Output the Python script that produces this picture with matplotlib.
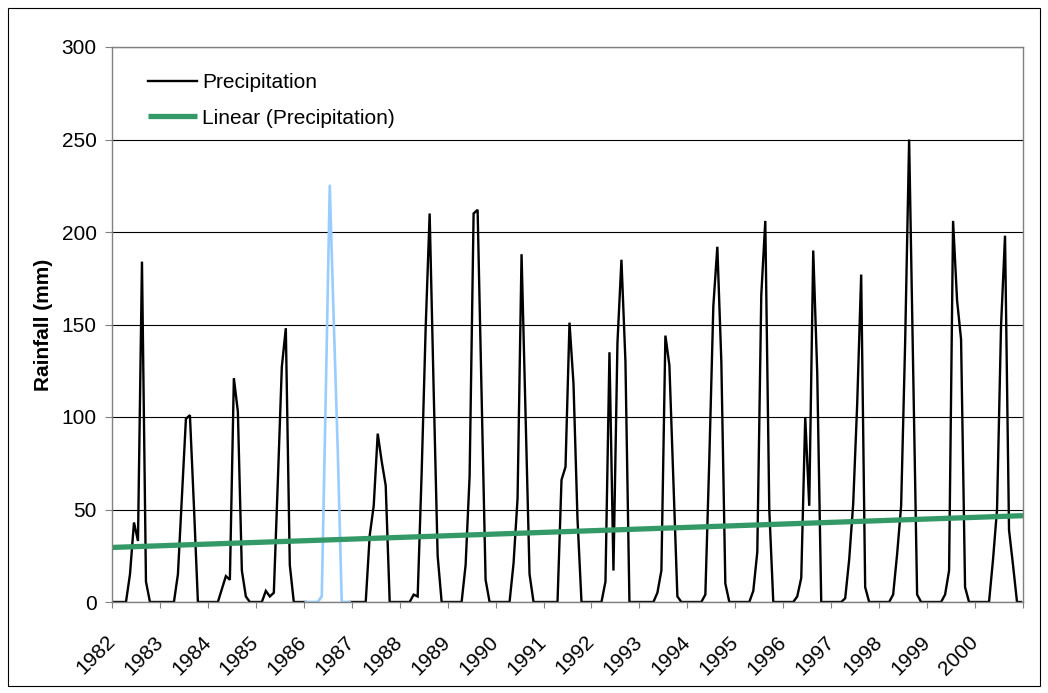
import numpy as np
import matplotlib
matplotlib.use("Agg")
import matplotlib.pyplot as plt
from matplotlib.patches import Rectangle
from matplotlib.transforms import ScaledTranslation

plt.rcParams['font.family'] = ['Liberation Sans', 'DejaVu Sans']

# ---- data: monthly precipitation (mm), Jan..Dec for each year ----
p1982 = [0, 0, 0, 0, 15, 43, 33, 184, 11, 0, 0, 0]
p1983 = [0, 0, 0, 0, 15, 57, 99, 101, 52, 0, 0, 0]
p1984 = [0, 0, 0, 7, 14, 12, 121, 103, 17, 3, 0, 0]
p1985 = [0, 0, 6, 3, 5, 65, 127, 148, 20, 0, 0, 0]
p1986 = [0, 0, 0, 0, 3, 112, 225, 152, 82, 0, 0, 0]
p1987 = [0, 0, 0, 0, 36, 52, 91, 76, 63, 0, 0, 0]
p1988 = [0, 0, 0, 4, 3, 70, 148, 210, 115, 25, 0, 0]
p1989 = [0, 0, 0, 0, 20, 68, 210, 212, 112, 12, 0, 0]
p1990 = [0, 0, 0, 0, 21, 56, 188, 102, 15, 0, 0, 0]
p1991 = [0, 0, 0, 0, 66, 73, 151, 118, 45, 0, 0, 0]
p1992 = [0, 0, 0, 11, 135, 17, 140, 185, 130, 0, 0, 0]
p1993 = [0, 0, 0, 0, 5, 17, 144, 128, 66, 3, 0, 0]
p1994 = [0, 0, 0, 0, 4, 78, 160, 192, 130, 10, 0, 0]
p1995 = [0, 0, 0, 0, 6, 27, 166, 206, 50, 0, 0, 0]
p1996 = [0, 0, 0, 3, 13, 100, 52, 190, 124, 0, 0, 0]
p1997 = [0, 0, 0, 2, 23, 53, 107, 177, 8, 0, 0, 0]
p1998 = [0, 0, 0, 4, 26, 52, 140, 250, 127, 4, 0, 0]
p1999 = [0, 0, 0, 0, 4, 17, 206, 163, 142, 8, 0, 0]
p2000 = [0, 0, 0, 0, 23, 50, 149, 198, 39, 20, 0, 0]

years = list(range(1982, 2001))
year_labels = [str(y) for y in years]
highlight_year = 1986
yticks = [0, 50, 100, 150, 200, 250, 300]

series = (p1982 + p1983 + p1984 + p1985 + p1986 + p1987 + p1988 + p1989 +
          p1990 + p1991 + p1992 + p1993 + p1994 + p1995 + p1996 + p1997 +
          p1998 + p1999 + p2000)
vals = np.array(series, dtype=float)
n = len(vals)
x = np.arange(n) + 0.5   # category centres

# ---- figure ----
W, H = 1048, 693
fig = plt.figure(figsize=(W / 100, H / 100), dpi=100)
ax = fig.add_axes([112 / W, (H - 602) / H, 911 / W, 555 / H])

FS = 15
hi0 = (highlight_year - years[0]) * 12
hi1 = hi0 + 11

ax.plot(x[:hi0 + 1], vals[:hi0 + 1], color='black', lw=1.7, zorder=3,
        solid_joinstyle='miter', label='Precipitation')
ax.plot(x[hi1:], vals[hi1:], color='black', lw=1.7, zorder=3,
        solid_joinstyle='miter')
ax.plot(x[hi0:hi1 + 1], vals[hi0:hi1 + 1], color='#99CCFF', lw=1.9, zorder=3)

# linear trend (Excel style, x = 1..n)
coef = np.polyfit(np.arange(1, n + 1), vals, 1)
xt = np.array([0.0, n])
ax.plot(xt, np.polyval(coef, xt + 0.5), color='#339966', lw=3.8, zorder=4,
        solid_capstyle='butt', label='Linear (Precipitation)')

ax.set_xlim(0, n)
ax.set_ylim(0, 300)
ax.set_yticks(yticks)
ax.set_yticklabels([str(v) for v in yticks], fontsize=FS)
ax.yaxis.grid(True, color='black', lw=0.8, zorder=0)
ax.set_axisbelow(True)

xt_pos = np.arange(0, n + 1, 12)
ax.set_xticks(xt_pos)
ax.set_xticklabels(year_labels + [''], fontsize=FS)
for lab in ax.get_xticklabels():
    lab.set_rotation(45)
    lab.set_ha('right')
    lab.set_va('center')
    lab.set_rotation_mode('anchor')
    lab.set_transform(lab.get_transform() +
                      ScaledTranslation(-14 / 100, 0, fig.dpi_scale_trans))

ax.tick_params(axis='x', direction='out', length=4.5, width=0.8,
               color='#808080', pad=22)
ax.tick_params(axis='y', direction='out', length=5, width=0.8,
               color='#808080', pad=6)
for s in ax.spines.values():
    s.set_color('#808080')
    s.set_linewidth(1.0)
    s.set_zorder(5)

ax.set_ylabel('Rainfall (mm)', fontsize=FS, fontweight='bold', labelpad=6)

leg = ax.legend(loc='upper left', bbox_to_anchor=(0.0395, 0.953),
                frameon=False, fontsize=FS, handlelength=2.36,
                handletextpad=0.25, labelspacing=0.8, borderpad=0,
                borderaxespad=0)

# chart-area border
fig.patches.append(Rectangle((8 / W, 7 / H), (1040 - 8) / W, (686 - 8) / H,
                             transform=fig.transFigure, fill=False,
                             edgecolor='black', lw=0.8))

fig.savefig('out.png', dpi=100)
